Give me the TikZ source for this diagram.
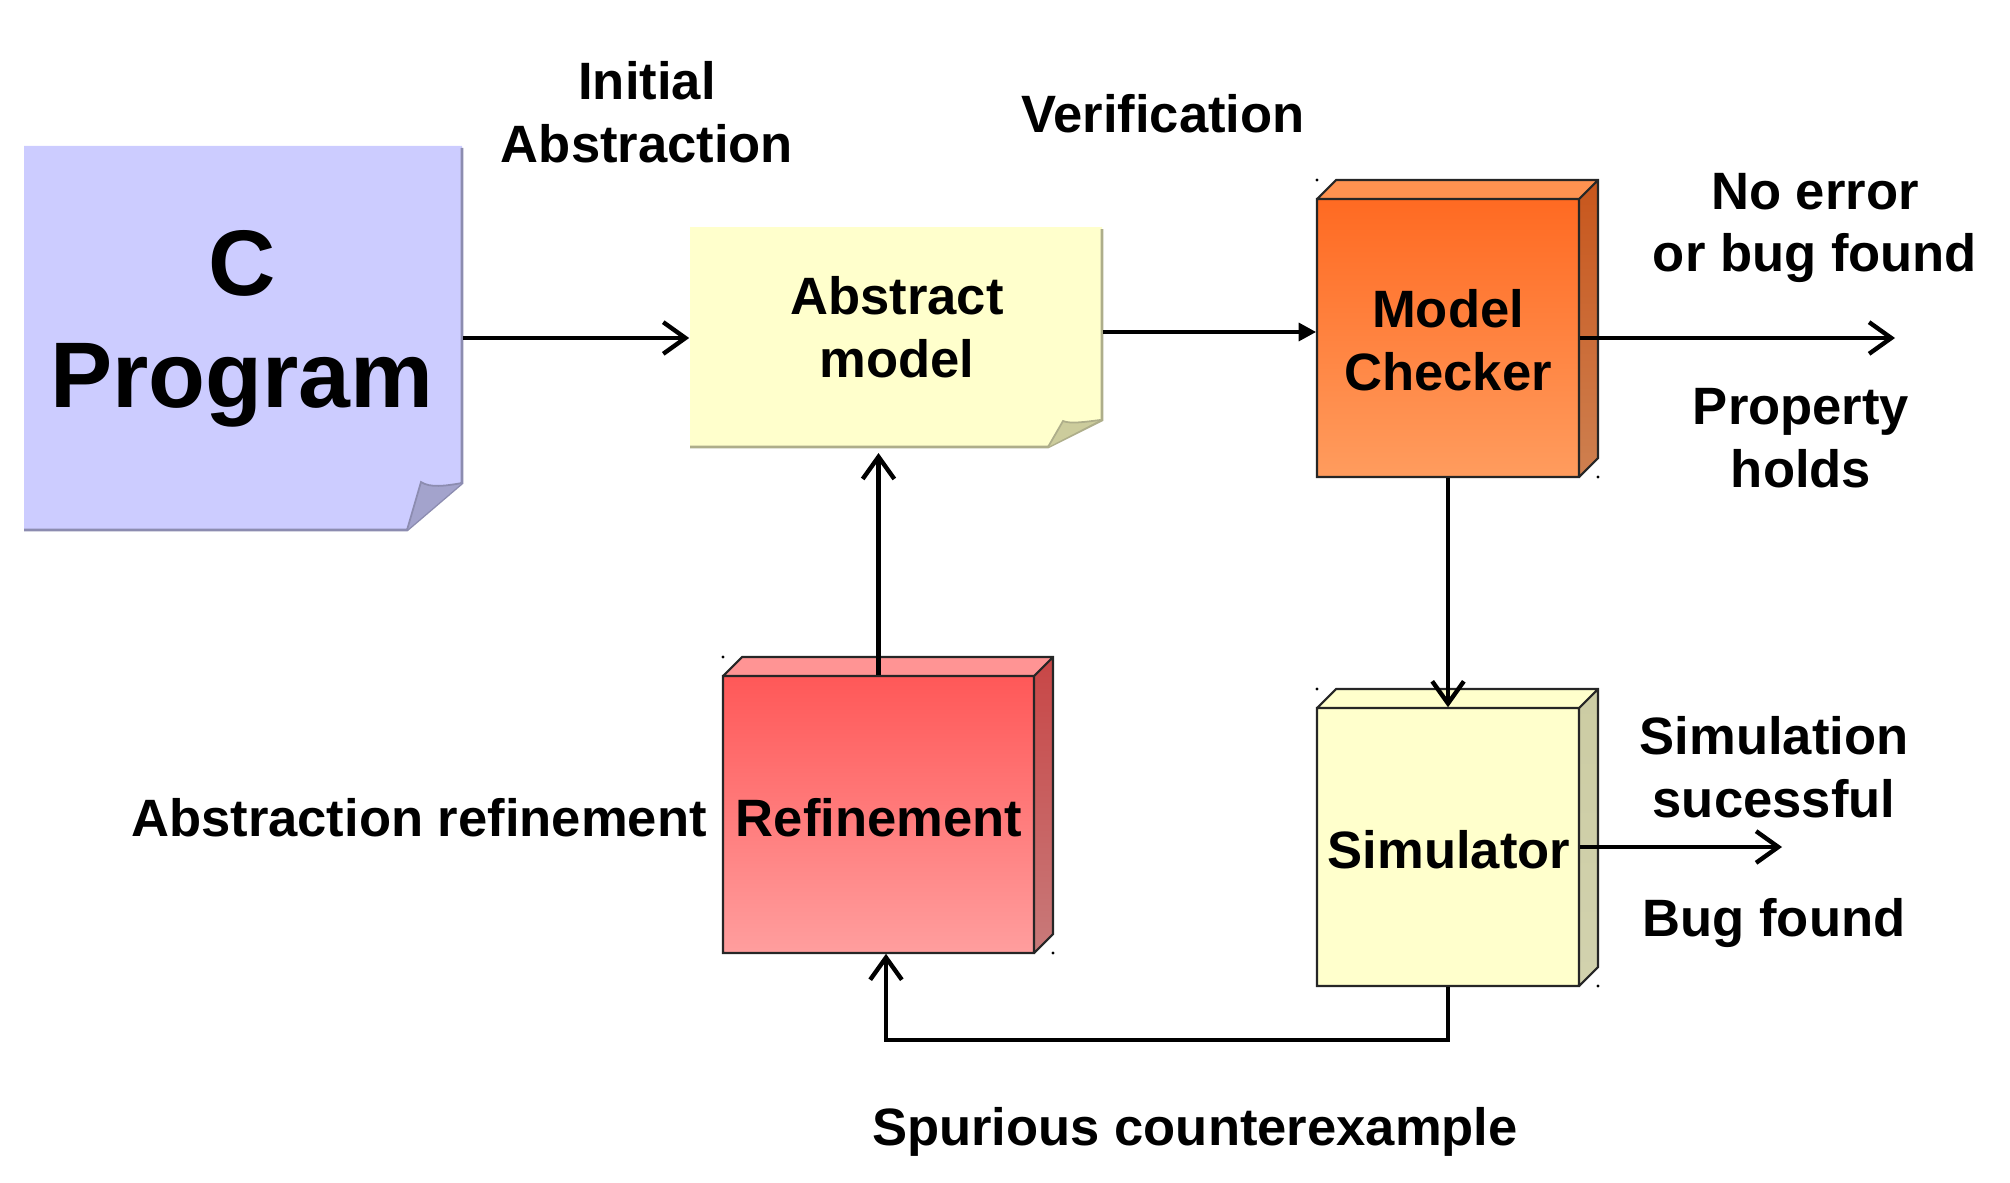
\documentclass[tikz,border=0pt]{standalone}
\usepackage{fontspec}
\setmainfont{Liberation Sans}
\usetikzlibrary{arrows.meta}
\definecolor{cfill}{HTML}{CCCCFF}
\definecolor{cshadow}{HTML}{8C8CB0}
\definecolor{cfold}{HTML}{A3A3CC}
\definecolor{yfill}{HTML}{FFFFCC}
\definecolor{yshadow}{HTML}{AEAE8A}
\definecolor{yfold}{HTML}{CCCC9C}
\definecolor{ysidetop}{HTML}{CCCCA3}
\definecolor{ysidebot}{HTML}{D2D2AE}
\definecolor{otop}{HTML}{FF6A22}
\definecolor{obot}{HTML}{FF9C5E}
\definecolor{osidetop}{HTML}{C8561C}
\definecolor{osidebot}{HTML}{CE8050}
\definecolor{otopface}{HTML}{FF9250}
\definecolor{rtop}{HTML}{FF5858}
\definecolor{rbot}{HTML}{FF9E9E}
\definecolor{rsidetop}{HTML}{C84646}
\definecolor{rsidebot}{HTML}{C87A7A}
\definecolor{rtopface}{HTML}{FF9494}
\newcommand\cuboid[9]{%
  \shade[top color=#5,bottom color=#6] (#1,#2) rectangle (#3,#4);
  \shade[top color=#7,bottom color=#8] (#3,#2) -- (#3+19,#2-19) -- (#3+19,#4-19) -- (#3,#4) -- cycle;
  \fill[#9] (#1,#2) -- (#1+19,#2-19) -- (#3+19,#2-19) -- (#3,#2) -- cycle;
  \draw[edge] (#1,#2) rectangle (#3,#4)
    (#1,#2) -- (#1+19,#2-19) -- (#3+19,#2-19) -- (#3+19,#4-19) -- (#3,#4)
    (#3,#2) -- (#3+19,#2-19);
  \fill (#1,#2-19) circle[radius=1.6];
  \fill (#3+19,#4) circle[radius=1.6];
}
\begin{document}
\begin{tikzpicture}[x=0.01cm,y=-0.01cm,
  edge/.style={line width=0.6pt,draw=black!85},
  boxnode/.style={draw=none,fill=none,inner sep=0pt,rectangle},
  lbl/.style={font=\bfseries\fontsize{14.95}{17.9}\selectfont,align=center,inner sep=0pt},
  big/.style={font=\bfseries\fontsize{26.5}{31.9}\selectfont,align=center,inner sep=0pt},
  conn/.style={line width=1.25pt,-{Straight Barb[length=6.3pt,width=9pt]}},
  fconn/.style={line width=1.25pt,-{Triangle[length=5pt,width=5pt]}}]
\useasboundingbox (0,0) rectangle (2010,1182);

% C Program note
\fill[cfill] (24,146) -- (462,146) -- (462,483) -- (407,530) -- (24,530) -- cycle;
\draw[cshadow,line width=0.8pt] (462,148) -- (462,483) -- (407,530) -- (24,530);
\fill[cfold] (462,483) .. controls (445,486) and (430,488) .. (421,482) -- (407,530) -- cycle;
\draw[cshadow,line width=0.5pt] (462,483) .. controls (445,486) and (430,488) .. (421,482) -- (407,530);
\node[boxnode,minimum width=4.38cm,minimum height=3.84cm] (cprog) at (243,338) {};
\node[big] (cprogtxt) at (242,329) {C\\Program};

% Abstract model note
\fill[yfill] (690,227) -- (1102,227) -- (1102,420) -- (1048,447) -- (690,447) -- cycle;
\draw[yshadow,line width=0.8pt] (1102,229) -- (1102,420) -- (1048,447) -- (690,447);
\fill[yfold] (1100,420) .. controls (1085,422) and (1070,424) .. (1063,421) -- (1048,447) -- cycle;
\draw[yshadow,line width=0.5pt] (1100,420) .. controls (1085,422) and (1070,424) .. (1063,421) -- (1048,447);
\node[boxnode,minimum width=4.12cm,minimum height=2.2cm] (abs) at (896,337) {};
\node[lbl] (abstxt) at (897,327) {Abstract\\model};

% Model checker
\cuboid{1317}{199}{1579}{477}{otop}{obot}{osidetop}{osidebot}{otopface}
\node[boxnode,minimum width=2.62cm,minimum height=2.78cm] (mc) at (1448,338) {};
\node[lbl] (mctxt) at (1448,340) {Model\\Checker};

% Simulator
\cuboid{1317}{708}{1579}{986}{yfill}{yfill}{ysidetop}{ysidebot}{yfill}
\node[boxnode,minimum width=2.62cm,minimum height=2.78cm] (sim) at (1448,847) {};
\node[lbl,anchor=base] (simtxt) at (1449,868) {Simulator};

% Refinement
\cuboid{723}{676}{1034}{953}{rtop}{rbot}{rsidetop}{rsidebot}{rtopface}
\node[boxnode,minimum width=3.11cm,minimum height=2.77cm] (ref) at (878.5,814.5) {};
\node[lbl,anchor=base] (reftxt) at (879,836) {Refinement};

% labels
\node[lbl] (l1) at (647,112) {Initial\\Abstraction};
\node[lbl,anchor=base] (l2) at (1163,133) {Verification};
\node[lbl] (l3) at (1815,228) {No error\\or bug found};
\node[lbl] (l4) at (1801,438) {Property\\holds};
\node[lbl] (l5) at (1774,767) {Simulation\\sucessful};
\node[lbl,anchor=base] (l6) at (1774,936) {Bug found};
\node[lbl,anchor=base] (l7) at (419,836) {Abstraction refinement};
\node[lbl,anchor=base] (l8) at (1195,1145) {Spurious counterexample};

% connectors
\coordinate (out1) at (1895,338);
\coordinate (out2) at (1782,847);
\coordinate (sp) at (886,1040);
\coordinate (a1) at ([yshift=0.05cm]abs.east);
\draw[conn] (cprog.east) -- (cprog.east -| abs.west);
\draw[fconn] (a1) -- (a1 -| mc.west);
\draw[conn] (mc.east) -- (out1);
\draw[conn] (mc.south) -- (sim.north);
\draw[conn] (sim.east) -- (out2);
\draw[conn,shorten >=1.5pt] (ref.north) -- (ref.north |- abs.south);
\draw[conn,line cap=butt] (sim.south) |- (sp) -- (sp |- ref.south);
\end{tikzpicture}
\end{document}
